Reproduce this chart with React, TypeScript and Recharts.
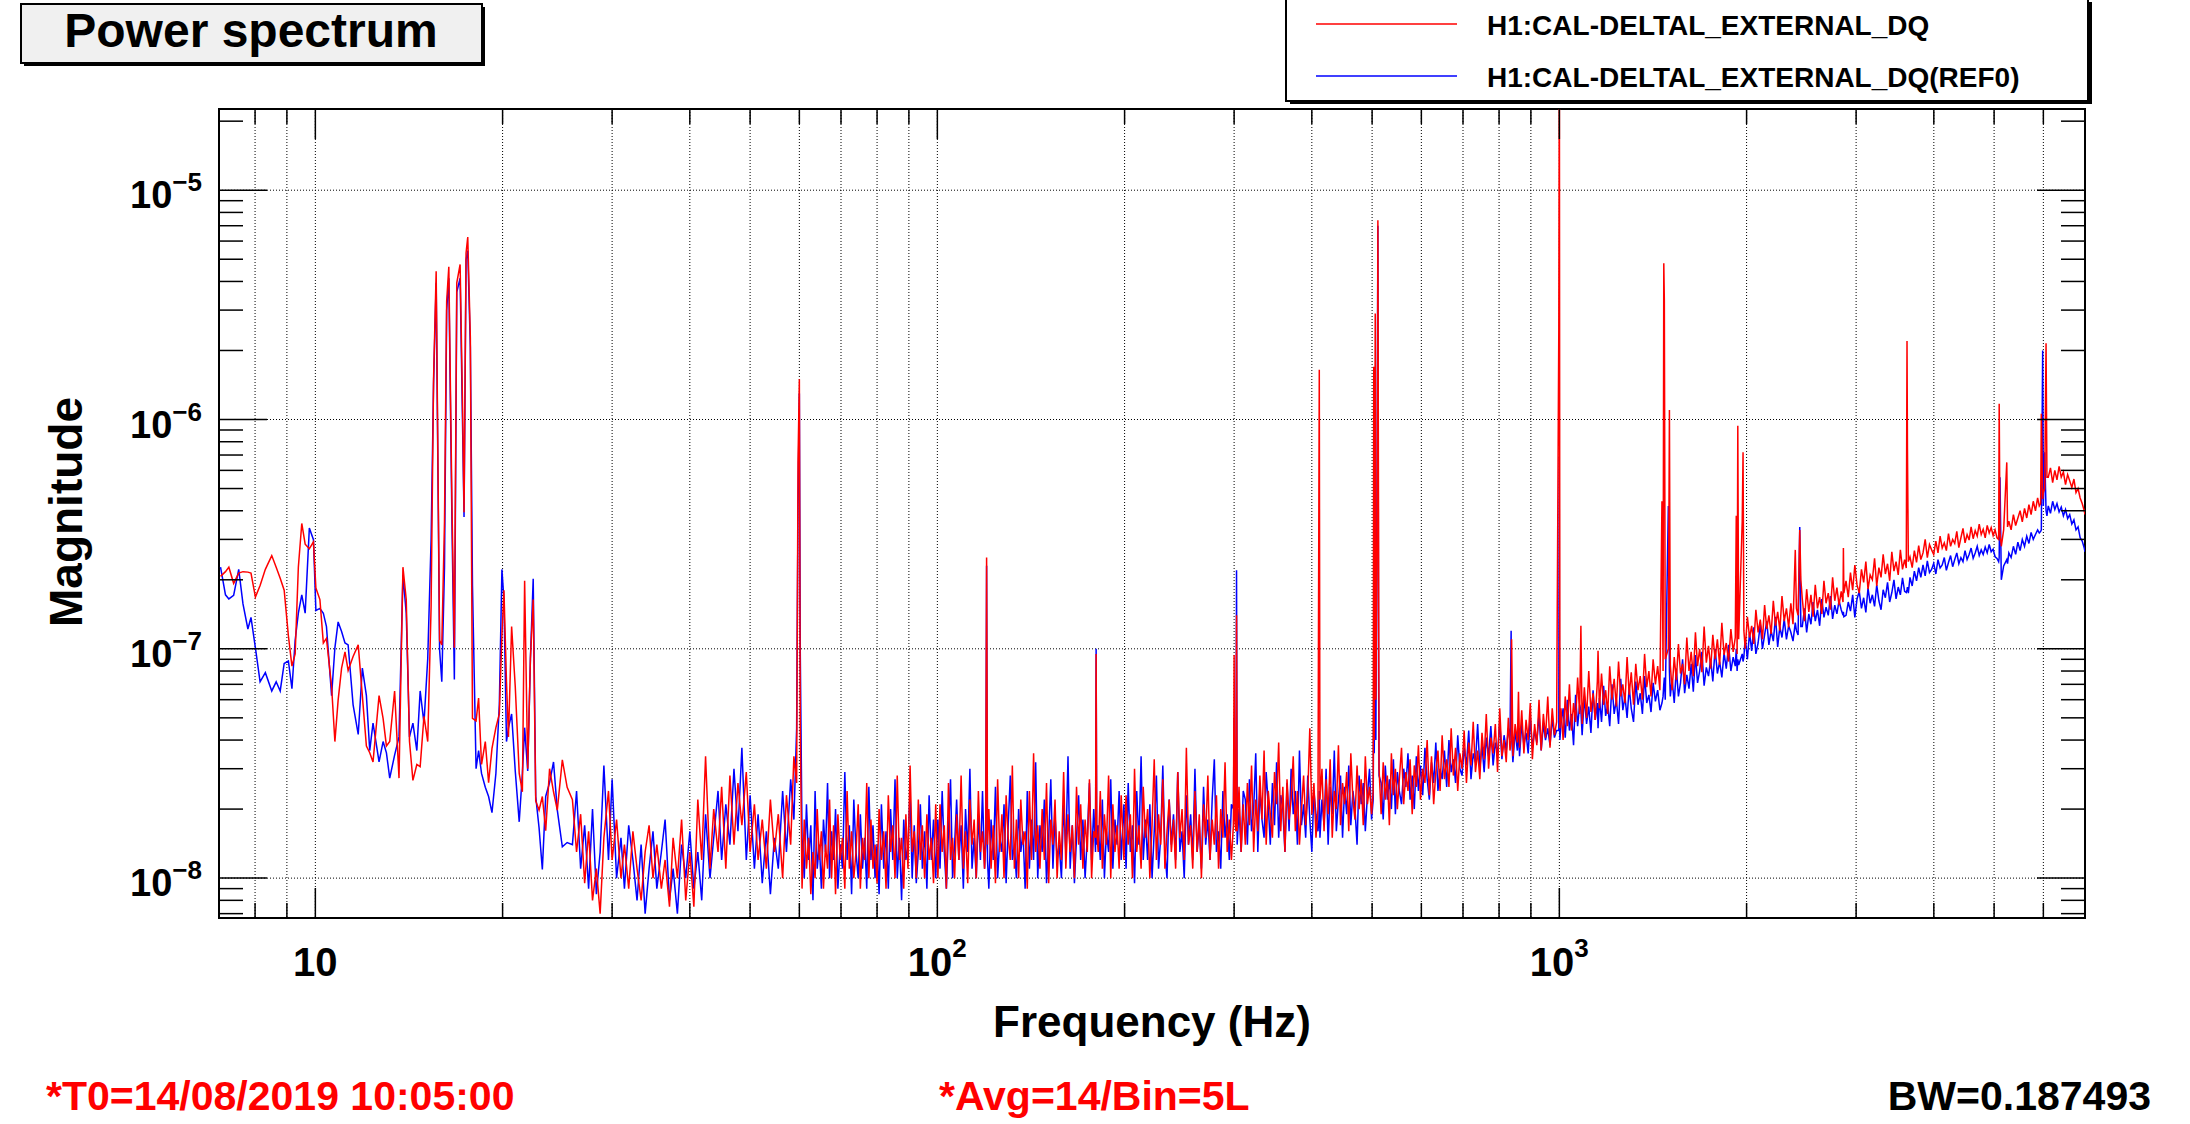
import {
  LineChart,
  Line,
  XAxis,
  YAxis,
  CartesianGrid,
  ReferenceLine,
  ReferenceArea,
} from "recharts";

const FONT = '"Liberation Sans", Arial, Helvetica, sans-serif';

// frequency of each point, Hz
const FREQ = [
  7.04, 7.17, 7.26, 7.39, 7.53, 7.65, 7.79, 7.88, 8.01, 8.15,
  8.31, 8.51, 8.65, 8.78, 8.91, 9.05, 9.17, 9.28, 9.39, 9.51,
  9.63, 9.78, 9.93, 10.02, 10.17, 10.3, 10.42, 10.62, 10.75, 10.88,
  11.02, 11.16, 11.29, 11.5, 11.72, 11.9, 12.08, 12.23, 12.38, 12.66,
  12.85, 13.01, 13.17, 13.41, 13.63, 13.83, 14.0, 14.17, 14.35, 14.56,
  14.74, 14.95, 15.16, 15.35, 15.49, 15.64, 15.84, 15.97, 16.13, 16.26,
  16.39, 16.58, 16.73, 16.88, 17.09, 17.25, 17.34, 17.47, 17.58, 17.75,
  17.89, 18.13, 18.3, 18.5, 18.76, 18.99, 19.23, 19.51, 19.76, 19.95,
  20.1, 20.29, 20.44, 20.68, 20.96, 21.27, 21.52, 21.7, 21.95, 22.17,
  22.4, 22.61, 22.89, 23.17, 23.46, 23.8, 24.15, 24.49, 24.95, 25.4,
  25.9, 26.3, 26.7, 27.1, 27.5, 27.9, 28.3, 28.7, 29.1, 29.6,
  30.0, 30.5, 31.0, 31.4, 31.9, 32.4, 32.9, 33.4, 33.9, 34.4,
  34.9, 35.4, 36.0, 36.5, 37.1, 37.6, 38.2, 38.8, 39.4, 40.0,
  40.6, 41.2, 41.8, 42.4, 43.1, 43.7, 44.4, 45.0, 45.7, 46.4,
  47.1, 47.8, 48.5, 49.3, 50.0, 50.8, 51.5, 52.3, 53.1, 53.9,
  54.7, 55.5, 56.4, 57.2, 58.1, 58.8, 59.4, 59.7, 60.0, 60.2,
  // 60 - 100 Hz
  60.6, 61.1, 61.6, 62.1, 62.6, 63.1, 63.6, 64.1, 64.6, 65.1, 65.6, 66.1, 66.6, 67.1, 67.6, 68.1, 68.6,
  69.2, 69.8, 70.4, 71, 71.6, 72.2, 72.8, 73.4, 74, 74.6, 75.2, 75.8, 76.4, 77, 77.6, 78.2, 78.8, 79.4, 80, 80.6,
  81.3, 82, 82.7, 83.4, 84.1, 84.8, 85.5, 86.2, 86.9, 87.6, 88.3, 89, 89.7, 90.4, 91.1, 91.8, 92.5, 93.2, 93.9, 94.6,
  95.4, 96.2, 97, 97.8, 98.6, 99.4,
  // 100 - 200 Hz
  100.2, 101, 101.8, 102.6, 103.4, 104.2, 105, 105.8, 106.6, 107.4,
  108.3, 109.2, 110.1, 111, 111.9, 112.8, 113.7, 114.6, 115.5, 116.4, 117.3, 118.2, 119.1,
  119.6, 120, 120.4,
  121, 122, 123, 124, 125, 126, 127, 128, 129, 130, 131, 132, 133, 134,
  135.1, 136.2, 137.3, 138.4, 139.5, 140.6, 141.7, 142.8, 143.9, 145,
  146.2, 147.4, 148.6, 149.8, 151, 152.2, 153.4, 154.6, 155.8, 157,
  158.3, 159.6, 160.9, 162.2, 163.5, 164.8, 166.1, 167.4, 168.7, 170,
  171.4, 172.8, 174.2, 175.6, 177, 178.4,
  179.6, 180, 180.4,
  181.4,
  182.8, 184.2, 185.6, 187,
  188.5, 190, 191.5, 193, 194.5, 196, 197.5,
  // 200 - 310 Hz
  199.5, 201.1, 202.7, 204.3, 205.9, 207.5,
  209.2, 210.9, 212.6, 214.3, 216,
  217.8, 219.6, 221.4, 223.2, 225, 226.8, 228.6, 230.4, 232.2, 234,
  235.9, 237.8, 239.7, 241.6, 243.5, 245.4,
  247.4, 249.4, 251.4, 253.4, 255.4, 257.4,
  259.5, 261.6, 263.7, 265.8, 267.9, 270,
  272.2, 274.4, 276.6, 278.8, 281, 283.2,
  285.5, 287.8, 290.1, 292.4, 294.7, 297,
  299.2, 300, 300.8,
  302, 302.7, 303.4,
  305.5, 307.9, 310.3,
  // 310 - 500 Hz
  312.7, 315.1, 317.5,
  320, 322.5, 325, 327.5, 330,
  332.6, 335.2, 337.8, 340.4, 343,
  345.7, 348.4, 351.1, 353.8, 356.5,
  359.3, 362.1, 364.9, 367.7, 370.5,
  373.4, 376.3, 379.2, 382.1, 385,
  388, 391, 394, 397, 400,
  403.1, 406.2, 409.2,
  410.6, 411.2, 412.2,
  415.3, 418.5, 421.7, 424.9, 428.1,
  431.4, 434.7, 438, 441.4, 444.8,
  448.2, 451.6, 455.1, 458.6, 462.1,
  465.7, 469.3, 472.9, 476.5, 480.2,
  483.9, 487.6, 491.4, 495.2, 499,
  // 500 Hz lines
  502, 503, 504, 505.8, 507, 509.5, 510.8, 512, 513,
  // 500 - 1000 Hz
  517, 521, 525, 529, 533, 537, 541, 545, 549, 553,
  557.5, 562, 566.5, 571, 575.5, 580, 584.5, 589, 593.5, 598,
  603, 608, 613, 618, 623, 628, 633, 638, 643, 648,
  653.5, 659, 664.5, 670, 675.5, 681, 686.5, 692, 697.5, 703,
  709, 715, 721, 727, 733, 739, 745, 751, 757, 763,
  769.5, 776, 782.5, 789, 795.5, 802, 808.5, 815, 821.5, 828,
  833, 836.5, 838,
  842, 849, 856,
  859.6,
  863, 870, 877, 884, 891, 898, 905,
  912.5, 920, 927.5, 935, 942.5, 950,
  958, 966, 974, 982, 990,
  998, 999.6, 1000.2, 1002,
  1006,
  // 1 - 1.46 kHz
  1014, 1022, 1030, 1038, 1046, 1054, 1062, 1070, 1078,
  1083,
  1088,
  1097, 1106, 1115, 1124, 1133, 1142, 1151,
  1154,
  1160, 1169, 1178, 1187, 1196, 1205,
  1215, 1225, 1235, 1245, 1255, 1265, 1275, 1285, 1295, 1305,
  1316, 1327, 1338, 1349, 1360, 1371, 1382, 1393, 1404, 1415,
  1427, 1439, 1451,
  1462, 1468, 1472, 1475, 1480, 1497, 1503, 1508,
  // 1.5 - 2 kHz
  1518, 1530, 1542, 1554, 1566, 1578, 1590,
  1603, 1616, 1629, 1642, 1655, 1668, 1681,
  1695, 1709, 1723, 1737, 1751, 1765,
  1780, 1795, 1810, 1825, 1840, 1855,
  1871, 1887, 1903, 1918,
  1925, 1931, 1936, 1942, 1968, 1974, 1980,
  // 2 - 2.9 kHz
  1990, 2006, 2022, 2038, 2054, 2070,
  2087, 2104, 2121, 2138, 2155, 2172,
  2190, 2208, 2226, 2244, 2262, 2280,
  2299, 2318, 2337, 2356, 2375,
  2395, 2405, 2420, 2435, 2445,
  2458, 2478, 2498, 2518, 2538, 2558,
  2579, 2600, 2621, 2642, 2663, 2684,
  2706, 2728, 2750, 2772, 2794, 2816,
  2839, 2858, 2862, 2867,
  // 2.9 - 3.7 kHz
  2890, 2914, 2938, 2962, 2986, 3010,
  3035, 3060, 3085, 3110, 3135, 3160,
  3186, 3212, 3238, 3264, 3290, 3316,
  3343, 3370, 3397, 3424, 3451, 3478,
  3506, 3534, 3562, 3590,
  3612, 3622, 3628, 3640,
  // 3.7 - 5.3 kHz
  3662, 3692, 3722, 3752, 3782, 3812,
  3843, 3874, 3905, 3936, 3967, 3998,
  4030, 4062, 4094, 4126, 4158, 4190,
  4223, 4256, 4289, 4322, 4355, 4388,
  4422, 4456, 4490, 4524, 4558, 4592,
  4627, 4662, 4697, 4732, 4767, 4802,
  4838, 4874, 4910, 4946, 4982, 5018, 5054,
  5085, 5095, 5110, 5135, 5180, 5240, 5255,
  // 5.3 - 7 kHz
  5280, 5325, 5370, 5415, 5460, 5505, 5550,
  5596, 5642, 5688, 5734, 5780,
  5827, 5874, 5910,
  5940, 5955, 5985, 6000, 6030, 6060, 6080,
  6110, 6160, 6210, 6260, 6310, 6360, 6411, 6462, 6513, 6564,
  6615, 6667, 6719, 6771, 6823, 6875, 6928, 6981, 7000,
];

// H1:CAL-DELTAL_EXTERNAL_DQ, magnitude in units of 1e-9
const H1_NANO = [
  207, 217, 227, 193, 214, 217, 216, 214, 168, 189,
  222, 255, 227, 203, 180, 114, 84, 95, 227, 352,
  286, 273, 293, 184, 164, 106, 111, 68.5, 39.4, 59.7,
  82.4, 97, 80.5, 92.6, 104, 62.5, 37.7, 35.2, 32.1, 62.5,
  49.7, 37.7, 39.4, 65.5, 27.3, 227, 164, 39.4, 26.7, 31.3,
  30.6, 50.8, 39.4, 153, 1500, 4426, 109, 104, 360, 3281,
  4634, 432, 101, 3945, 4742, 1086, 394, 5321, 6250, 2270,
  49.7, 48.5, 61, 31.3, 39.4, 26.1, 36.8, 45.3, 52, 114,
  180, 71.8, 41.3, 125, 68.5, 28.6, 23.8, 198, 30, 90.6,
  164, 21.7, 19.8, 22.7, 16.1, 30, 23.8, 19.8, 32.8, 24.9,
  22, 13, 19, 9.5, 16, 8, 11, 7, 15, 24,
  12, 18, 10, 14, 9, 16, 11, 8, 13, 17,
  10, 14, 9, 12, 7.5, 15, 10, 18, 8, 13,
  7.5, 22, 12, 34, 11, 20, 13, 25, 11, 28,
  14, 26, 17, 29, 13, 21, 12, 18, 11, 22,
  13, 19, 10, 23, 14, 34, 26, 650, 1500, 45,
  // 60 - 100 Hz
  9, 18, 11, 15, 8.5, 13, 10, 20, 12, 16, 9, 14, 11, 22, 10, 17, 8.5,
  19, 12, 15, 9, 24, 11, 16, 10, 13, 21, 9, 15, 12, 26, 10, 18, 11, 14, 9.5, 20,
  12, 16, 9, 23, 13, 17, 10, 28, 12, 15, 9, 19, 11, 31, 13, 16, 10, 22, 12, 17,
  10, 19, 12, 15, 9.5, 21,
  // 100 - 200 Hz
  10, 21, 13, 17, 9, 26, 12, 15, 10, 19,
  12, 28, 11, 16, 9.5, 22, 14, 18, 10, 24, 13, 16, 11,
  15, 250, 14,
  20, 11, 17, 9.5, 27, 13, 19, 10, 23, 15, 12, 31, 11, 18,
  10, 22, 14, 16, 9, 24, 12, 35, 13, 17,
  11, 20, 12, 26, 9.5, 18, 14, 22, 10, 16,
  12, 29, 11, 19, 13, 17, 10, 25, 14, 21,
  11, 18, 13, 27, 10, 16,
  15, 95, 16,
  13,
  24, 11, 19, 14,
  28, 10, 21, 13, 17, 11, 23,
  // 200 - 310 Hz
  12, 23, 14, 19, 10, 30,
  13, 17, 11, 25, 15,
  20, 10, 17, 33, 12, 19, 14, 27, 11, 16,
  22, 13, 18, 11, 29, 15,
  20, 12, 37, 14, 17, 11,
  24, 13, 19, 10, 21, 15,
  28, 12, 18, 14, 23, 11,
  20, 15, 32, 13, 18, 12,
  17, 94, 18,
  16, 140, 16,
  25, 13, 21,
  // 310 - 500 Hz
  14, 26, 17,
  31, 13, 22, 16, 28,
  18, 36, 14, 24, 19,
  15, 29, 21, 39, 16,
  25, 13, 27, 18, 22,
  34, 16, 24, 14, 20,
  28, 17, 23, 45, 19,
  26, 15, 20,
  490, 1650, 22,
  30, 16, 27, 19, 33,
  15, 24, 20, 38, 17,
  26, 21, 29, 16, 35,
  22, 18, 31, 20, 27,
  17, 34, 21, 25, 19,
  // 500 Hz lines
  24, 1700, 40, 2900, 60, 300, 7400, 410, 30,
  // 500 - 1000 Hz
  19, 32, 22, 28, 17, 35, 23, 30, 20, 27,
  37, 21, 29, 24, 33, 19, 31, 25, 38, 22,
  30, 26, 40, 23, 34, 21, 29, 36, 24, 42,
  27, 33, 25, 45, 28, 37, 24, 35, 30, 44,
  26, 39, 31, 48, 29, 36, 27, 43, 33, 52,
  30, 41, 35, 47, 29, 55, 34, 40, 32, 50,
  36, 40, 110,
  34, 47, 39,
  65,
  37, 54, 35, 49, 40, 58, 33,
  47, 38, 60, 36, 52, 41,
  62, 37, 55, 42, 48,
  2500, 30000, 30000, 45,
  55,
  // 1 - 1.46 kHz
  40, 62, 46, 70, 44, 58, 48, 75, 52,
  126,
  47,
  68, 50, 80, 53, 64, 49, 72,
  98,
  55, 78, 57, 66, 52, 84,
  60, 74, 56, 88, 62, 70, 58, 92, 63, 79,
  57, 86, 66, 76, 60, 95, 68, 80, 62, 90,
  70, 84, 66,
  440, 80, 4800, 3300, 90, 100, 1100, 85,
  // 1.5 - 2 kHz
  66, 92, 73, 105, 78, 86, 70,
  112, 80, 97, 76, 118, 84, 100,
  79, 125, 87, 103, 82, 115,
  90, 110, 85, 130, 94, 106,
  88, 122, 97, 112,
  380, 95, 940, 110, 360, 720, 120,
  // 2 - 2.9 kHz
  100, 138, 112, 126, 105, 148,
  118, 134, 110, 155, 122, 140,
  116, 162, 126, 145, 120, 170,
  132, 150, 124, 158, 128,
  270, 150, 140, 330, 200,
  165, 132, 182, 145, 172, 138,
  190, 150, 168, 142, 198, 158,
  175, 148, 205, 162, 185, 155,
  178, 160, 275, 175,
  // 2.9 - 3.7 kHz
  198, 168, 215, 180, 232, 190,
  175, 222, 195, 240, 182, 210,
  200, 248, 188, 226, 205, 258,
  212, 235, 198, 265, 218, 240,
  210, 270, 222, 245,
  225, 2200, 740, 240,
  // 3.7 - 5.3 kHz
  252, 226, 268, 238, 282, 245,
  262, 300, 250, 285, 270, 258,
  295, 262, 310, 275, 290, 268,
  318, 280, 300, 288, 325, 276,
  305, 335, 290, 315, 298, 340,
  302, 328, 310, 350, 315, 332,
  305, 345, 320, 338, 312, 330, 305,
  300, 1170, 320, 280, 330, 650, 340,
  // 5.3 - 7 kHz
  360, 330, 385, 345, 372, 400, 358,
  410, 372, 425, 385, 440,
  400, 455, 420,
  430, 1060, 450, 480, 500, 2150, 560,
  560, 615, 530, 600, 545, 625, 560, 590, 520, 575,
  540, 505, 550, 480, 500, 455, 430, 400, 385,
];

// H1:CAL-DELTAL_EXTERNAL_DQ(REF0), magnitude in units of 1e-9
const REF0_NANO = [
  227, 172, 165, 171, 222, 157, 122, 137, 101, 71.8,
  78.7, 65.5, 71.8, 65.5, 86.3, 88.5, 67, 109, 143, 172,
  143, 336, 299, 147, 150, 143, 125, 62.5, 101, 131,
  119, 106, 104, 57, 42.3, 82.4, 62.5, 36, 47.4, 32.1,
  39.4, 35.2, 27.3, 34.4, 41.3, 210, 143, 41.3, 47.4, 36,
  65.5, 47.4, 90.6, 299, 1432, 3945, 99, 71.8, 227, 2992,
  4130, 360, 73.5, 3597, 4130, 904, 376, 4966, 5445, 2070,
  189, 30, 36, 28.6, 24.9, 22.7, 19.3, 28.6, 57, 222,
  164, 39.4, 45.3, 52, 29.3, 17.6, 28.6, 45.3, 29.3, 90.6,
  202, 22.7, 16.6, 10.9, 22.7, 26.1, 32.1, 19.8, 13.7, 14.3,
  14, 24, 11, 17, 9, 20, 8.5, 13, 31, 12,
  27, 10, 15, 9, 17, 12, 8, 14, 7, 11,
  16, 9, 13, 18, 8, 11, 7, 14, 10, 16,
  9, 13, 8, 19, 10, 15, 24, 12, 21, 14,
  30, 16, 37, 12, 23, 11, 19, 9.5, 16, 8.5,
  15, 11, 24, 13, 27, 18, 45, 410, 1300, 98,
  // 60 - 100 Hz
  15, 10, 21, 12, 17, 8, 24, 11, 14, 9, 18, 13, 26, 10, 16, 12, 20,
  9, 14, 11, 29, 12, 17, 8.5, 22, 13, 10, 19, 11, 15, 9, 25, 12, 17, 10, 14, 8.5,
  21, 11, 16, 9, 20, 12, 27, 10, 15, 8, 18, 12, 14, 24, 10, 17, 9.5, 13, 21, 11,
  16, 9, 23, 12, 18, 10,
  // 100 - 200 Hz
  18, 11, 24, 13, 9, 16, 27, 10, 14, 22,
  12, 17, 9, 20, 13, 30, 11, 15, 10, 19, 12, 24, 11,
  14, 230, 12,
  9, 18, 12, 25, 10, 15, 13, 21, 9.5, 17, 28, 12, 14, 10,
  20, 13, 16, 9, 24, 11, 18, 12, 32, 10,
  17, 13, 22, 9.5, 15, 27, 11, 19, 12, 14,
  10, 21, 13, 34, 11, 17, 9.5, 15, 23, 12,
  18, 10, 15, 26, 12, 20,
  13, 100, 14,
  17,
  12, 22, 10, 16,
  13, 27, 11, 18, 14, 24, 12,
  // 200 - 310 Hz
  21, 11, 26, 13, 17, 9.5,
  24, 14, 34, 12, 18,
  12, 21, 10, 16, 28, 11, 15, 31, 13, 10,
  22, 14, 19, 12, 29, 13,
  16, 10, 23, 14, 19, 12,
  30, 13, 17, 11, 25, 14,
  18, 12, 22, 33, 13, 16,
  11, 24, 15, 19, 12, 21,
  20, 50, 22,
  18, 220, 14,
  20, 13, 24,
  // 310 - 500 Hz
  22, 14, 27,
  16, 20, 35, 13, 24,
  18, 15, 29, 21, 14,
  26, 17, 32, 15, 23,
  20, 13, 26, 16, 30,
  19, 24, 14, 36, 17,
  21, 15, 28, 18, 13,
  24, 19, 16,
  18, 24, 15,
  22, 17, 30, 14, 25,
  19, 36, 16, 22, 28,
  15, 25, 19, 31, 17,
  24, 20, 14, 28, 21,
  26, 16, 23, 30, 18,
  // 500 Hz lines
  22, 60, 35, 220, 40, 810, 7000, 90, 28,
  // 500 - 1000 Hz
  26, 18, 31, 22, 27, 20, 33, 19, 29, 24,
  21, 30, 25, 35, 22, 28, 20, 34, 24, 31,
  23, 37, 27, 22, 32, 26, 39, 24, 30, 27,
  36, 25, 40, 29, 33, 26, 42, 30, 28, 37,
  31, 44, 27, 35, 32, 47, 30, 38, 29, 41,
  34, 46, 31, 39, 35, 48, 33, 42, 36, 45,
  40, 120, 42,
  32, 44, 36,
  45,
  34, 47, 38, 43, 35, 50, 37,
  44, 39, 52, 36, 47, 40,
  45, 38, 50, 41, 44,
  44, 690, 60, 40,
  47,
  // 1 - 1.46 kHz
  55, 41, 60, 44, 52, 38, 63, 46, 57,
  54,
  42,
  62, 47, 56, 43, 66, 49, 58,
  45,
  61, 48, 69, 51, 57, 46,
  70, 52, 60, 47, 74, 54, 62, 50, 68, 55,
  48, 72, 57, 64, 52, 76, 58, 63, 53, 71,
  59, 66, 54,
  58, 62, 70, 75, 60, 420, 80, 62,
  // 1.5 - 2 kHz
  74, 58, 82, 62, 71, 90, 64,
  77, 67, 86, 65, 94, 71, 80,
  97, 69, 83, 76, 90, 72,
  100, 78, 88, 75, 96, 82,
  104, 80, 92, 84,
  100, 80, 90, 85, 95, 88, 92,
  // 2 - 2.9 kHz
  112, 90, 118, 98, 124, 95,
  106, 128, 100, 115, 132, 104,
  120, 108, 138, 102, 125, 112,
  135, 110, 126, 118, 108,
  130, 120, 115, 340, 125,
  125, 150, 118, 142, 128, 160,
  132, 148, 126, 165, 137, 152,
  140, 170, 135, 155, 142, 162,
  148, 140, 145, 138,
  // 2.9 - 3.7 kHz
  140, 160, 146, 172, 137, 165,
  178, 150, 167, 144, 184, 158,
  172, 153, 190, 162, 148, 181,
  167, 195, 160, 176, 200, 165,
  186, 172, 204, 178,
  176, 181, 186, 175,
  // 3.7 - 5.3 kHz
  205, 188, 218, 198, 226, 205,
  232, 208, 242, 215, 222, 236,
  212, 245, 225, 232, 250, 220,
  238, 255, 228, 245, 262, 235,
  250, 240, 268, 245, 258, 275,
  248, 262, 280, 255, 270, 258,
  278, 262, 285, 265, 272, 252, 248,
  240, 250, 560, 200, 230, 245, 235,
  // 5.3 - 7 kHz
  262, 250, 280, 258, 292, 268, 300,
  280, 310, 288, 322, 300,
  315, 330, 320,
  325, 330, 2000, 420, 720, 400, 380,
  420, 390, 440, 405, 430, 395, 415, 380, 405, 370,
  385, 350, 365, 330, 340, 305, 295, 275, 265,
];

const X_TICKS = [
  8, 9, 10, 20, 30, 40, 50, 60, 70, 80, 90, 100, 200, 300, 400, 500,
  600, 700, 800, 900, 1000, 2000, 3000, 4000, 5000, 6000,
];
const X_DECADES = [10, 100, 1000];
const X_EXPONENTS = ["", "2", "3"];

const Y_TICKS = [
  7e-9, 8e-9, 9e-9,
  1e-8, 2e-8, 3e-8, 4e-8, 5e-8, 6e-8, 7e-8, 8e-8, 9e-8,
  1e-7, 2e-7, 3e-7, 4e-7, 5e-7, 6e-7, 7e-7, 8e-7, 9e-7,
  1e-6, 2e-6, 3e-6, 4e-6, 5e-6, 6e-6, 7e-6, 8e-6, 9e-6,
  1e-5, 2e-5,
];
const Y_DECADES = [1e-8, 1e-7, 1e-6, 1e-5];
const Y_EXPONENTS = ["\u22128", "\u22127", "\u22126", "\u22125"];

const X_DOMAIN = [7, 7000];
const Y_DOMAIN = [6.7e-9, 2.26e-5];

const W = 2190;
const H = 1124;
const MARGIN = { top: 109, right: 105, bottom: 205, left: 218 };
const PLOT_W = W - MARGIN.left - 1 - MARGIN.right;
const PLOT_H = H - MARGIN.top - 1 - MARGIN.bottom;
const TRACE_WIDTH = 1.5;

const rows = FREQ.map((f, i) => ({
  f,
  h1: H1_NANO[i] * 1e-9,
  ref0: REF0_NANO[i] * 1e-9,
}));

const decadeIndex = (v: number, list: number[]) =>
  list.findIndex((d) => Math.abs(v / d - 1) < 1e-6);

function XTick({ x, y, payload }: any) {
  const i = decadeIndex(payload.value, X_DECADES);
  const len = i >= 0 ? 30 : 15;
  return (
    <g>
      <line x1={x} x2={x} y1={y} y2={y - len} stroke="#000" strokeWidth={1.5} />
      <line
        x1={x}
        x2={x}
        y1={y - PLOT_H}
        y2={y - PLOT_H + len}
        stroke="#000"
        strokeWidth={1.5}
      />
      {i >= 0 && (
        <text
          x={x}
          y={y + 58}
          textAnchor="middle"
          fontFamily={FONT}
          fontWeight="bold"
          fill="#000"
        >
          <tspan fontSize={40}>10</tspan>
          {X_EXPONENTS[i] && (
            <tspan fontSize={26} dy={-19}>
              {X_EXPONENTS[i]}
            </tspan>
          )}
        </text>
      )}
    </g>
  );
}

function YTick({ x, y, payload }: any) {
  const i = decadeIndex(payload.value, Y_DECADES);
  const len = i >= 0 ? 48 : 24;
  return (
    <g>
      <line x1={x} x2={x + len} y1={y} y2={y} stroke="#000" strokeWidth={1.5} />
      <line
        x1={x + PLOT_W}
        x2={x + PLOT_W - len}
        y1={y}
        y2={y}
        stroke="#000"
        strokeWidth={1.5}
      />
      {i >= 0 && (
        <text
          x={x - 17}
          y={y + 18}
          textAnchor="end"
          fontFamily={FONT}
          fontWeight="bold"
          fill="#000"
        >
          <tspan fontSize={38}>10</tspan>
          <tspan fontSize={26} dy={-17}>
            {Y_EXPONENTS[i]}
          </tspan>
        </text>
      )}
    </g>
  );
}

export default function App() {
  return (
    <div
      style={{
        position: "absolute",
        left: 0,
        top: 0,
        width: W,
        height: H,
        background: "#fff",
        overflow: "hidden",
      }}
    >
      <LineChart width={W} height={H} data={rows} margin={MARGIN}>
        <CartesianGrid
          horizontal={false}
          stroke="#000"
          strokeDasharray="1 2"
          strokeWidth={1}
        />
        {Y_DECADES.map((v) => (
          <ReferenceLine
            key={v}
            y={v}
            stroke="#000"
            strokeDasharray="1 2"
            strokeWidth={1}
          />
        ))}
        <XAxis
          dataKey="f"
          type="number"
          scale="log"
          domain={X_DOMAIN}
          allowDataOverflow
          ticks={X_TICKS}
          interval={0}
          tickSize={0}
          tickMargin={0}
          axisLine={false}
          height={1}
          tick={(p: any) => <XTick {...p} />}
        />
        <YAxis
          type="number"
          scale="log"
          domain={Y_DOMAIN}
          allowDataOverflow
          ticks={Y_TICKS}
          interval={0}
          tickSize={0}
          tickMargin={0}
          axisLine={false}
          width={1}
          tick={(p: any) => <YTick {...p} />}
        />
        <Line
          dataKey="ref0"
          type="linear"
          stroke="#0000ff"
          strokeWidth={TRACE_WIDTH}
          dot={false}
          isAnimationActive={false}
        />
        <Line
          dataKey="h1"
          type="linear"
          stroke="#ff0000"
          strokeWidth={TRACE_WIDTH}
          dot={false}
          isAnimationActive={false}
        />
        <ReferenceArea
          x1={X_DOMAIN[0]}
          x2={X_DOMAIN[1]}
          y1={Y_DOMAIN[0]}
          y2={Y_DOMAIN[1]}
          fill="none"
          stroke="#000"
          strokeWidth={2}
        />
      </LineChart>

      <svg
        width={W}
        height={H}
        style={{ position: "absolute", left: 0, top: 0, pointerEvents: "none" }}
        fontFamily={FONT}
        fontWeight="bold"
      >
        {/* title pave */}
        <rect x={24} y={7} width={461} height={59} fill="#000" />
        <rect x={21} y={4} width={461} height={59} fill="#f0f0f0" stroke="#000" strokeWidth={2} />
        <text x={251} y={47} fontSize={48} textAnchor="middle" fill="#000">
          Power spectrum
        </text>

        {/* legend */}
        <rect x={1290} y={2} width={802} height={102} fill="#000" />
        <rect x={1286} y={-2} width={802} height={103} fill="#fff" stroke="#000" strokeWidth={2} />
        <line x1={1316} x2={1457} y1={24} y2={24} stroke="#ff0000" strokeWidth={1.5} />
        <text x={1487} y={35} fontSize={28} fill="#000">
          H1:CAL-DELTAL_EXTERNAL_DQ
        </text>
        <line x1={1316} x2={1457} y1={76} y2={76} stroke="#0000ff" strokeWidth={1.5} />
        <text x={1487} y={87} fontSize={28} fill="#000">
          H1:CAL-DELTAL_EXTERNAL_DQ(REF0)
        </text>

        {/* axis titles */}
        <text
          transform="translate(82 512) rotate(-90)"
          fontSize={46}
          textAnchor="middle"
          fill="#000"
        >
          Magnitude
        </text>
        <text x={1152} y={1037} fontSize={44} textAnchor="middle" fill="#000">
          Frequency (Hz)
        </text>

        {/* footer */}
        <text x={46} y={1110} fontSize={41} fill="#ff0000">
          *T0=14/08/2019 10:05:00
        </text>
        <text x={939} y={1110} fontSize={41} fill="#ff0000">
          *Avg=14/Bin=5L
        </text>
        <text x={2151} y={1110} fontSize={41} textAnchor="end" fill="#000">
          BW=0.187493
        </text>
      </svg>
    </div>
  );
}
